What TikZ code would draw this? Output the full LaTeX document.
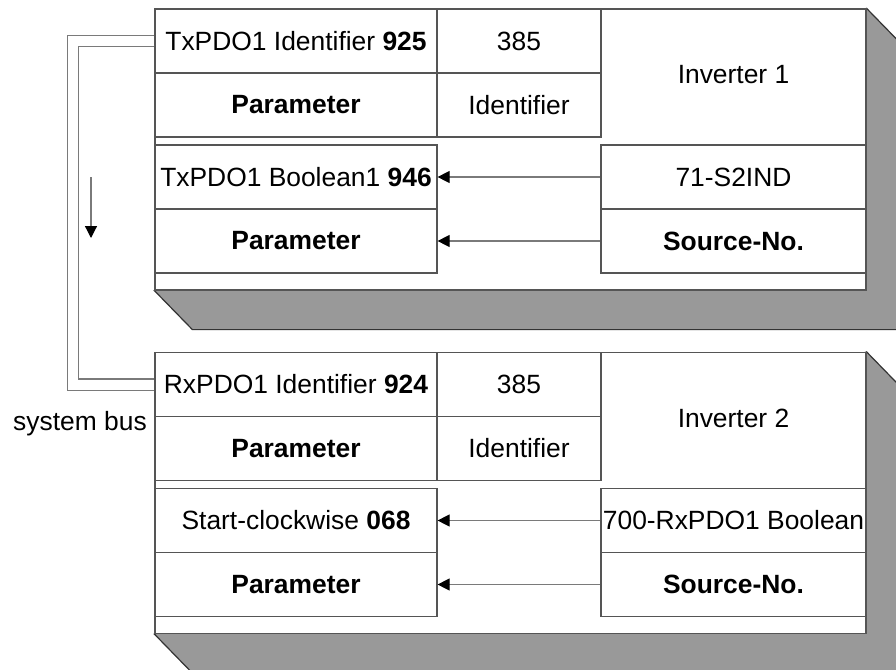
\documentclass[tikz,border=0pt]{standalone}
\usepackage{fontspec}
\setmainfont{Liberation Sans}
\usetikzlibrary{arrows.meta}
\definecolor{shadegray}{HTML}{999999}
\definecolor{linegray}{HTML}{555555}
\definecolor{busgray}{HTML}{7A7A7A}
\tikzset{
	txt/.style={font=\fontsize{26.4}{30}\selectfont, inner sep=0pt},
	cell/.style={txt, draw=linegray, line width=1.2pt, minimum height=64pt, minimum width=#1},
	cell/.default=282pt,
	face/.style={draw=linegray, fill=white, line width=1.2pt, minimum width=711pt, minimum height=281pt, inner sep=0pt},
	flow/.style={draw=busgray, line width=1.2pt, -{Triangle[length=12pt,width=12pt,color=black]}},
	bus/.style={draw=busgray, line width=1.2pt, double=white, double distance=10pt}
}
\newcommand{\slab}[1]{%
	\filldraw[fill=shadegray, draw=black!80, line width=1.2pt]
		(#1.south west) -- ([shift={(38,39)}]#1.south west) -- ([shift={(38,39)}]#1.south east) --
		([shift={(38,39)}]#1.north east) -- (#1.north east) -- cycle;
}
\begin{document}
\begin{tikzpicture}[x=1pt, y=-1pt]
	\useasboundingbox (0,0) rectangle (896,669);
	\clip (0,0) rectangle (896,669);
	\node[face] (inv1) at (510.5,149.5) {};
	\slab{inv1}
	\node[face] (inv2) at (510.5,493) {};
	\slab{inv2}
	\node[face] at (510.5,149.5) {};
	\node[face] at (510.5,493) {};

	\node[cell] (txid) at (296,41) {TxPDO1 Identifier \textbf{925}};
	\node[cell] (txpar) at (296,105) {\textbf{Parameter}};
	\node[cell=164pt] (txcob) at (519,41) {385};
	\node[cell=164pt] (txidf) at (519,105) {Identifier};
	\node[txt] (txname) at (733.5,75) {Inverter 1};
	\node[cell] (txbool) at (296,177) {TxPDO1 Boolean1 \textbf{946}};
	\node[cell] (txbpar) at (296,241) {\textbf{Parameter}};
	\node[cell=265pt] (txsrc) at (733.5,177) {71-S2IND};
	\node[cell=265pt] (txsno) at (733.5,241) {\textbf{Source-No.}};
	\draw[flow] (txsrc.west) -- (txbool.east);
	\draw[flow] (txsno.west) -- (txbpar.east);

	\node[cell] (rxid) at (296,384.5) {RxPDO1 Identifier \textbf{924}};
	\node[cell] (rxpar) at (296,448.5) {\textbf{Parameter}};
	\node[cell=164pt] (rxcob) at (519,384.5) {385};
	\node[cell=164pt] (rxidf) at (519,448.5) {Identifier};
	\node[txt] (rxname) at (733.5,418.5) {Inverter 2};
	\node[cell] (rxcmd) at (296,520.5) {Start-clockwise \textbf{068}};
	\node[cell] (rxcpar) at (296,584.5) {\textbf{Parameter}};
	\node[cell=265pt] (rxsrc) at (733.5,520.5) {700-RxPDO1 Boolean};
	\node[cell=265pt] (rxsno) at (733.5,584.5) {\textbf{Source-No.}};
	\draw[flow] (rxsrc.west) -- (rxcmd.east);
	\draw[flow] (rxsno.west) -- (rxcpar.east);

	\draw[bus] (txid.west) -- ++(-81.5,0) |- (rxid.west);
	\coordinate (dirtop) at (91,177);
	\draw[flow] (dirtop) -- ++(0,61);
	\node[txt] (sysbus) at (80,424) {system bus};
\end{tikzpicture}
\end{document}
